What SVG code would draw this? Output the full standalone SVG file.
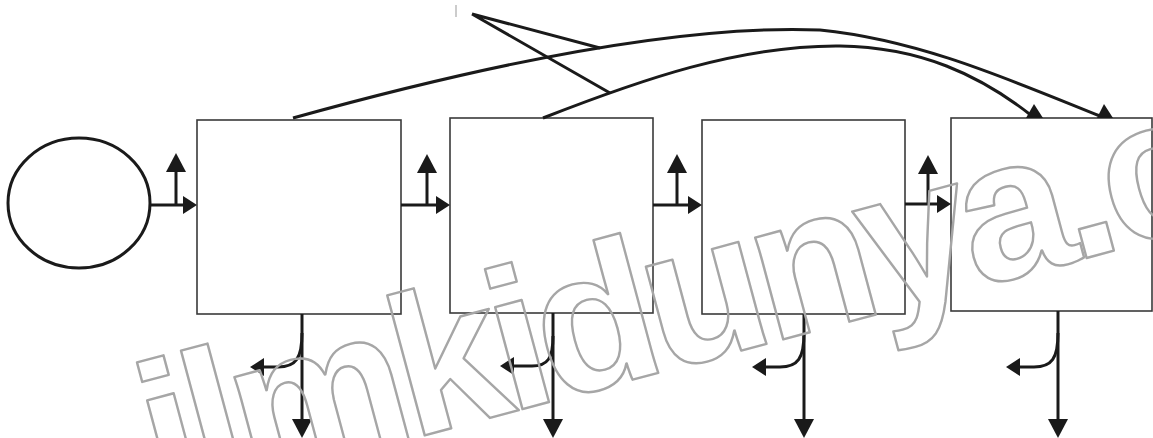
<svg xmlns="http://www.w3.org/2000/svg" width="1153" height="438" viewBox="0 0 1153 438">
<style>
.box{fill:#fff;stroke:#3a3a3a;stroke-width:1.6}
.conn{fill:none;stroke:#1a1a1a;stroke-width:3}
.head{fill:#1a1a1a}
.wm{fill:none;stroke:#a6a6a6;stroke-width:2.4;stroke-linejoin:round;font-family:"Liberation Sans",Arial,sans-serif;font-weight:bold;font-size:200px;letter-spacing:-10px}
</style>
<defs>
<marker id="ah" markerUnits="userSpaceOnUse" viewBox="-12 -11 22 22" refX="0" refY="0" markerWidth="22" markerHeight="22" orient="auto">
<path d="M8,0 L-11,-10 L-11,10 z" fill="#1a1a1a"/>
</marker>
<marker id="ahs" markerUnits="userSpaceOnUse" viewBox="-10 -10 17 20" refX="0" refY="0" markerWidth="17" markerHeight="20" orient="auto">
<path d="M5,0 L-9,-9 L-9,9 z" fill="#1a1a1a"/>
</marker>
</defs>
<rect width="1153" height="438" fill="#fff"/>
<g id="source"><ellipse cx="79" cy="203" rx="71" ry="65" fill="#fff" stroke="#1a1a1a" stroke-width="3"/></g>
<g id="box1"><rect class="box" x="197" y="120" width="204" height="194"/></g>
<g id="box2"><rect class="box" x="450" y="118" width="203" height="195"/></g>
<g id="box3"><rect class="box" x="702" y="120" width="203" height="194"/></g>
<g id="box4"><rect class="box" x="951" y="118" width="201" height="193"/></g>
<g id="connectors">
<path class="conn" d="M150,205 L192,205" marker-end="url(#ahs)"/>
<path class="conn" d="M176,205 L176,161" marker-end="url(#ah)"/>
<path class="conn" d="M401,205 L445,205" marker-end="url(#ahs)"/>
<path class="conn" d="M427,205 L427,162" marker-end="url(#ah)"/>
<path class="conn" d="M653,205 L697,205" marker-end="url(#ahs)"/>
<path class="conn" d="M677,205 L677,162" marker-end="url(#ah)"/>
<path class="conn" d="M905,204 L946,204" marker-end="url(#ahs)"/>
<path class="conn" d="M928,204 L928,163" marker-end="url(#ah)"/>
<path class="conn" d="M302,314 L302,430" marker-end="url(#ah)"/>
<path class="conn" d="M553,313 L553,430" marker-end="url(#ah)"/>
<path class="conn" d="M804,314 L804,430" marker-end="url(#ah)"/>
<path class="conn" d="M1058,311 L1058,430" marker-end="url(#ah)"/>
<path class="conn" d="M302,333 C302,358 296,367 278,367 L255,367" marker-end="url(#ahs)"/>
<path class="conn" d="M553,336 C553,358 548,366 532,366 L505,366" marker-end="url(#ahs)"/>
<path class="conn" d="M804,333 C804,358 798,367 780,367 L757,367" marker-end="url(#ahs)"/>
<path class="conn" d="M1058,333 C1058,358 1052,367 1034,367 L1011,367" marker-end="url(#ahs)"/>
<path class="conn" d="M293,118 C520,55 700,25 820,30 C920,40 1010,80 1100,116"/>
<path class="conn" d="M543,118 C640,80 740,45 840,46 C920,47 980,75 1032,116"/>
<path class="conn" d="M472,14 L600,48 M472,14 L610,93"/>
<polygon class="head" points="1026,118 1034,104 1043,118"/>
<polygon class="head" points="1097,118 1104,104 1113,118"/>
</g>
<line x1="456" y1="5" x2="456" y2="17" stroke="#999" stroke-width="1"/>
<text class="wm" x="161" y="506" transform="rotate(-15 161 506)">ilmkidunya.c</text>
</svg>
